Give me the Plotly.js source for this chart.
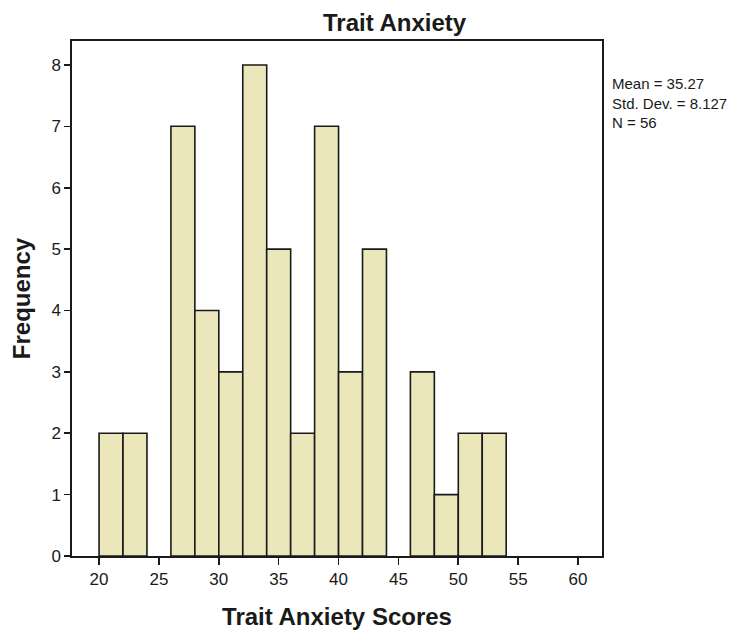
<!DOCTYPE html>
<html>
<head>
<meta charset="utf-8">
<script src="https://cdn.plot.ly/plotly-3.0.1.min.js"></script>
<style>html,body{margin:0;padding:0;background:#fff;}#chart{width:753px;height:634px;}</style>
</head>
<body>
<div id="chart"></div>
<script>
const binCenters = [21, 23, 25, 27, 29, 31, 33, 35, 37, 39, 41, 43, 45, 47, 49, 51, 53];
const counts     = [2, 2, 0, 7, 4, 3, 8, 5, 2, 7, 3, 5, 0, 3, 1, 2, 2];
const binWidth = 2;
const xTicks = [20, 25, 30, 35, 40, 45, 50, 55, 60];
const yTicks = [0, 1, 2, 3, 4, 5, 6, 7, 8];
const statLines = ["Mean = 35.27", "Std. Dev. = 8.127", "N = 56"];
const chartTitle = "Trait Anxiety";
const xTitle = "Trait Anxiety Scores";
const yTitle = "Frequency";

const FONT = "Liberation Sans, Arial, sans-serif";
const INK = "#1a1a1a";

const trace = {
  type: "bar",
  x: binCenters,
  y: counts,
  width: binCenters.map(() => binWidth),
  marker: {
    color: "#ebe7bb",
    line: { color: INK, width: counts.map(c => c > 0 ? 1.6 : 0) }
  },
  hoverinfo: "x+y"
};

const layout = {
  width: 753, height: 634,
  margin: { l: 72, r: 151, t: 41, b: 78 },
  paper_bgcolor: "#ffffff",
  plot_bgcolor: "#ffffff",
  showlegend: false,
  font: { family: FONT, color: INK, size: 17 },
  xaxis: {
    range: [17.74, 62.0],
    tickvals: xTicks,
    ticktext: xTicks.map(String),
    ticks: "outside", ticklen: 7, tickwidth: 1.6, tickcolor: INK,
    showline: true, linecolor: INK, linewidth: 1.6, mirror: true,
    showgrid: false, zeroline: false,
    tickfont: { size: 17, family: FONT, color: INK },
    title: { text: xTitle, font: { size: 24, family: FONT, color: INK, weight: "bold" }, standoff: 20 }
  },
  yaxis: {
    range: [0, 8.39],
    tickvals: yTicks,
    ticktext: yTicks.map(String),
    ticks: "outside", ticklen: 6, tickwidth: 1.6, tickcolor: INK,
    showline: true, linecolor: INK, linewidth: 1.6, mirror: true,
    showgrid: false, zeroline: false,
    tickfont: { size: 17, family: FONT, color: INK },
    title: { text: yTitle, font: { size: 24, family: FONT, color: INK, weight: "bold" }, standoff: 14 }
  },
  annotations: [
    {
      text: "<b>" + chartTitle + "</b>",
      xref: "paper", yref: "paper",
      x: 0.61, y: 1, yshift: 3,
      xanchor: "center", yanchor: "bottom",
      showarrow: false,
      font: { size: 24, family: FONT, color: INK }
    },
    {
      text: statLines.join("<br>"),
      xref: "paper", yref: "paper",
      x: 1, xshift: 8,
      y: 1, yshift: -32,
      xanchor: "left", yanchor: "top", align: "left",
      showarrow: false,
      font: { size: 15, family: FONT, color: INK }
    }
  ]
};

Plotly.newPlot("chart", [trace], layout, { displayModeBar: false, staticPlot: true });
</script>
</body>
</html>
